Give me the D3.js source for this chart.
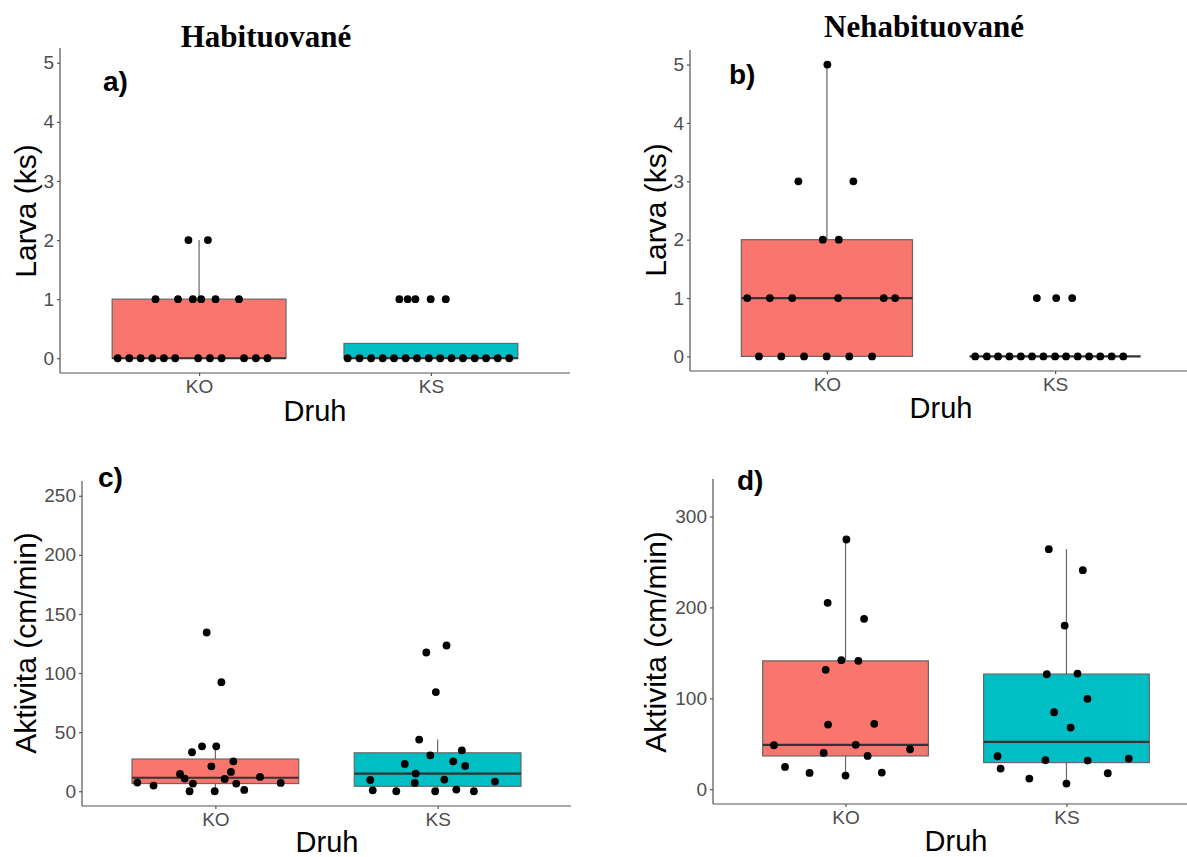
<!DOCTYPE html>
<html>
<head>
<meta charset="utf-8">
<script src="https://cdn.jsdelivr.net/npm/d3@7"></script>
<style>
    body { margin: 0; background: #fff; }
</style>
</head>
<body>
<div id="canvas"></div>
<script>
var categories = ['KO', 'KS'];
var larvaTicks = [0, 1, 2, 3, 4, 5];
var aktivitaTicksHab = [0, 50, 100, 150, 200, 250];
var aktivitaTicksNehab = [0, 100, 200, 300];

// a) Habituované - larva
var larvaHabKO = [0, 0, 0, 0, 0, 0, 0, 0, 0, 0, 0, 0, 1, 1, 1, 1, 1, 1, 2, 2];
var larvaHabKOJitter = [-0.351, -0.301, -0.252, -0.202, -0.152, -0.103, -0.004, 0.047, 0.097, 0.194, 0.245, 0.295,
    -0.188, -0.091, -0.027, 0.009, 0.071, 0.172, -0.046, 0.038];
var larvaHabKS = [0, 0, 0, 0, 0, 0, 0, 0, 0, 0, 0, 0, 0, 0, 0, 1, 1, 1, 1, 1];
var larvaHabKSJitter = [-0.359, -0.308, -0.258, -0.208, -0.159, -0.109, -0.060, -0.009, 0.040, 0.089, 0.138, 0.189,
    0.238, 0.288, 0.338, -0.136, -0.100, -0.067, -0.001, 0.064];

// b) Nehabituované - larva
var larvaNehabKO = [0, 0, 0, 0, 0, 0, 1, 1, 1, 1, 1, 1, 2, 2, 3, 3, 5];
var larvaNehabKOJitter = [-0.298, -0.200, -0.100, -0.001, 0.098, 0.198, -0.349, -0.250, -0.152, 0.049, 0.249, 0.299,
    -0.018, 0.052, -0.125, 0.116, 0.002];
var larvaNehabKS = [0, 0, 0, 0, 0, 0, 0, 0, 0, 0, 0, 0, 0, 0, 1, 1, 1];
var larvaNehabKSJitter = [-0.350, -0.299, -0.250, -0.200, -0.150, -0.101, -0.051, 0.000, 0.048, 0.099, 0.149, 0.198,
    0.248, 0.299, -0.080, 0.005, 0.075];

// c) Habituované - aktivita
var aktHabKO = [134.3, 92.3, 38, 38, 33, 25.3, 21.1, 16.3, 14.6, 10.7, 10.4, 12.1, 7.3, 6.5, 6.5, 7.0, 4.8, 1.1, 0, 0];
var aktHabKOJitter = [-0.039, 0.027, -0.060, 0.004, -0.105, 0.081, -0.018, 0.070, -0.159, -0.138, 0.042, 0.201,
    -0.351, -0.101, 0.094, 0.294, -0.278, 0.130, -0.116, -0.003];
var aktHabKS = [123.3, 117.4, 83.9, 43.7, 34.6, 30.4, 23.1, 25.3, 21.4, 14.9, 9.5, 9.9, 8.2, 7.0, 0.8, 0, 0, 1.4, 0];
var aktHabKSJitter = [0.040, -0.051, -0.008, -0.083, 0.109, -0.033, -0.148, 0.070, 0.124, -0.099, -0.303, 0.030,
    0.258, -0.103, -0.292, -0.186, -0.011, 0.084, 0.163];

// d) Nehabituované - aktivita
var aktNehabKO = [274.7, 205, 187.4, 142, 141.2, 131.3, 71.1, 71.9, 48.4, 48.8, 44.0, 39.9, 36.6, 24.5, 17.9, 15.0, 18.3];
var aktNehabKOJitter = [0.004, -0.081, 0.084, -0.019, 0.058, -0.090, -0.079, 0.130, -0.324, 0.046, 0.292, -0.099,
    0.100, -0.274, -0.163, 0, 0.164];
var aktNehabKS = [264.1, 241, 180, 126.5, 127.2, 99.4, 84.7, 67.8, 36.3, 31.9, 31.5, 33.7, 22.7, 17.6, 11.7, 6.2];
var aktNehabKSJitter = [-0.080, 0.074, -0.008, -0.089, 0.050, 0.095, -0.056, 0.019, -0.312, -0.095, 0.096, 0.282,
    -0.298, 0.187, -0.168, 0];

var SANS = "'Liberation Sans', Arial, sans-serif";
var SERIF = "'Liberation Serif', 'Times New Roman', serif";

var color = d3.scaleOrdinal()
    .domain(categories)
    .range(['#F8766D', '#00BFC4']);

var canvas = d3.select('#canvas').append('svg')
    .attr('width', 1187)
    .attr('height', 857)
    .style('font-family', SANS);

function boxStats(values) {
    var s = values.slice().sort(d3.ascending);
    var q1 = d3.quantile(s, 0.25),
        med = d3.quantile(s, 0.5),
        q3 = d3.quantile(s, 0.75),
        iqr = q3 - q1;
    var lo = d3.min(s.filter(function(v) { return v >= q1 - 1.5 * iqr; }));
    var hi = d3.max(s.filter(function(v) { return v <= q3 + 1.5 * iqr; }));
    return {q1: q1, med: med, q3: q3, lo: lo, hi: hi};
}

function drawPanel(p) {
    var x = d3.scalePoint()
        .domain(categories)
        .range([p.left, p.right])
        .padding(0.6);
    var pad = (p.limits[1] - p.limits[0]) * 0.05;
    var y = d3.scaleLinear()
        .domain([p.limits[0] - pad, p.limits[1] + pad])
        .range([p.bottom, p.top]);
    var boxW = x.step() * 0.75;

    var g = canvas.append('g');

    // boxes
    p.groups.forEach(function(grp, i) {
        var st = boxStats(grp.values);
        var cx = x(categories[i]);
        g.append('line')
            .attr('x1', cx).attr('x2', cx)
            .attr('y1', y(st.q3)).attr('y2', y(st.hi))
            .attr('stroke', '#666').attr('stroke-width', 1.2);
        g.append('line')
            .attr('x1', cx).attr('x2', cx)
            .attr('y1', y(st.q1)).attr('y2', y(st.lo))
            .attr('stroke', '#666').attr('stroke-width', 1.2);
        g.append('rect')
            .attr('x', cx - boxW / 2)
            .attr('y', y(st.q3))
            .attr('width', boxW)
            .attr('height', y(st.q1) - y(st.q3))
            .attr('fill', color(categories[i]))
            .attr('stroke', '#666')
            .attr('stroke-width', 1.2);
        g.append('line')
            .attr('x1', cx - boxW / 2).attr('x2', cx + boxW / 2)
            .attr('y1', y(st.med)).attr('y2', y(st.med))
            .attr('stroke', '#333').attr('stroke-width', 2.2);
    });

    // jittered points
    p.groups.forEach(function(grp, i) {
        g.selectAll('.pt' + i)
            .data(grp.values)
            .enter()
            .append('circle')
            .attr('cx', function(d, j) { return x(categories[i]) + grp.jitter[j] * x.step(); })
            .attr('cy', function(d) { return y(d); })
            .attr('r', 3.9)
            .attr('fill', '#000');
    });

    // axes
    var yAxis = g.append('g')
        .attr('transform', 'translate(' + p.left + ',0)')
        .call(d3.axisLeft(y).tickValues(p.ticks).tickFormat(d3.format('d')).tickSize(3).tickPadding(3));
    var xAxis = g.append('g')
        .attr('transform', 'translate(0,' + p.bottom + ')')
        .call(d3.axisBottom(x).tickSize(3).tickPadding(4));
    [yAxis, xAxis].forEach(function(ax) {
        ax.select('.domain').attr('stroke', '#555').attr('stroke-width', 1.2);
        ax.selectAll('.tick line').attr('stroke', '#555').attr('stroke-width', 1.2);
        ax.selectAll('.tick text')
            .attr('fill', '#4d4d4d')
            .style('font-size', '19px')
            .style('font-family', SANS);
    });
    yAxis.select('.domain').attr('d', 'M0,' + p.bottom + 'V' + p.top);
    xAxis.select('.domain').attr('d', 'M' + p.left + ',0H' + p.right);

    // labels
    g.append('text')
        .attr('transform', 'translate(' + p.yLabel[0] + ',' + p.yLabel[1] + ') rotate(-90)')
        .attr('text-anchor', 'middle')
        .style('font-size', '30px')
        .text(p.yTitle);
    g.append('text')
        .attr('x', p.xLabel[0]).attr('y', p.xLabel[1])
        .attr('text-anchor', 'middle')
        .style('font-size', '29px')
        .text('Druh');
    g.append('text')
        .attr('x', p.tag[0]).attr('y', p.tag[1])
        .style('font-size', '28px')
        .style('font-weight', 'bold')
        .text(p.tagText);
    if (p.title) {
        g.append('text')
            .attr('x', p.titlePos[0]).attr('y', p.titlePos[1])
            .attr('text-anchor', 'middle')
            .style('font-family', SERIF)
            .style('font-weight', 'bold')
            .style('font-size', '31px')
            .text(p.title);
    }
}

drawPanel({
    left: 60, right: 570, top: 48, bottom: 373,
    limits: [0, 5], ticks: larvaTicks,
    groups: [{values: larvaHabKO, jitter: larvaHabKOJitter}, {values: larvaHabKS, jitter: larvaHabKSJitter}],
    yTitle: 'Larva (ks)', yLabel: [36, 211], xLabel: [315, 421],
    tagText: 'a)', tag: [103, 91],
    title: 'Habituované', titlePos: [266, 47]
});

drawPanel({
    left: 690, right: 1192, top: 50, bottom: 371,
    limits: [0, 5], ticks: larvaTicks,
    groups: [{values: larvaNehabKO, jitter: larvaNehabKOJitter}, {values: larvaNehabKS, jitter: larvaNehabKSJitter}],
    yTitle: 'Larva (ks)', yLabel: [666, 210], xLabel: [941, 418],
    tagText: 'b)', tag: [729, 84],
    title: 'Nehabituované', titlePos: [924, 37]
});

drawPanel({
    left: 82, right: 571, top: 481, bottom: 806,
    limits: [0, 250], ticks: aktivitaTicksHab,
    groups: [{values: aktHabKO, jitter: aktHabKOJitter}, {values: aktHabKS, jitter: aktHabKSJitter}],
    yTitle: 'Aktivita (cm/min)', yLabel: [36, 643], xLabel: [327, 852],
    tagText: 'c)', tag: [98, 487]
});

drawPanel({
    left: 713, right: 1199, top: 479, bottom: 804,
    limits: [0, 325], ticks: aktivitaTicksNehab,
    groups: [{values: aktNehabKO, jitter: aktNehabKOJitter}, {values: aktNehabKS, jitter: aktNehabKSJitter}],
    yTitle: 'Aktivita (cm/min)', yLabel: [666, 642], xLabel: [956, 851],
    tagText: 'd)', tag: [737, 490]
});
</script>
</body>
</html>
